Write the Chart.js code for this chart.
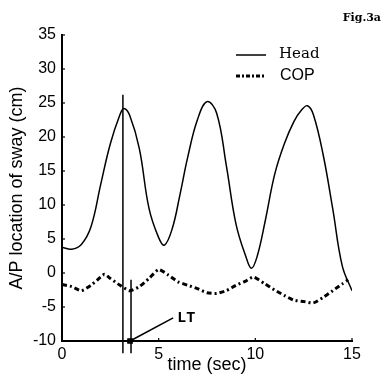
<!DOCTYPE html>
<html>
<head>
<meta charset="utf-8">
<script src="https://cdn.jsdelivr.net/npm/chart.js@4.4.1/dist/chart.umd.min.js"></script>
<style>
  html, body { margin: 0; padding: 0; background: #fff; }
  #wrap { width: 384px; height: 376px; }
</style>
</head>
<body>
<div id="wrap"><canvas id="myChart"></canvas></div>
<script>
// Head position (solid line)
const headTime  = [0, 0.5, 1.0, 1.5, 2.0, 2.5, 3.0, 3.2, 3.5, 4.0, 4.5, 5.0, 5.3, 5.7, 6.1, 6.5, 7.0, 7.5, 8.0, 8.5, 9.0, 9.5, 9.8, 10.1, 10.5, 11.0, 11.5, 12.0, 12.4, 12.7, 13.0, 13.5, 14.0, 14.5, 15.0];
const headValue = [3.8, 3.5, 4.2, 6.8, 13, 19, 23.3, 24.2, 23.2, 18.3, 9.5, 5.2, 4.1, 6.5, 11.5, 17, 22.5, 25.2, 23.5, 15.8, 7.2, 2.5, 0.7, 2.5, 7.5, 14.5, 19, 22.3, 24, 24.6, 23.3, 17.5, 9.5, 1, -2.6];

// Centre of pressure (dash-dot line)
const copTime  = [0, 0.5, 1.0, 1.5, 2.0, 2.2, 2.5, 3.0, 3.5, 4.0, 4.5, 5.0, 5.5, 6.0, 6.5, 7.0, 7.5, 8.0, 8.5, 9.0, 9.5, 9.9, 10.5, 11.0, 11.5, 12.0, 12.5, 13.0, 13.5, 14.0, 14.5, 14.8];
const copValue = [-1.7, -2.0, -2.6, -1.8, -0.6, -0.2, -0.8, -1.8, -2.6, -2.0, -0.8, 0.5, -0.3, -1.3, -1.8, -2.3, -2.9, -3.0, -2.6, -1.8, -1.2, -0.6, -1.6, -2.5, -3.3, -4.0, -4.2, -4.4, -3.6, -2.6, -1.6, -1.0];

// vertical markers and LT annotation
const markerTime   = [3.15, 3.57];
const markerTop    = [26.2, -1.0];
const markerBottom = -11.8;
const ltFrom = [3.52, -10];
const ltTo   = [5.75, -6.6];
const ltText = 'LT';

const xTicks = [0, 5, 10, 15];
const yTicks = [-10, -5, 0, 5, 10, 15, 20, 25, 30, 35];

const sans = "'Liberation Sans', Arial, sans-serif";

const toXY = (xs, ys) => xs.map((x, i) => ({ x: x, y: ys[i] }));

const markerSets = markerTime.map((t, i) => ({
    label: 'marker' + i,
    data: [{ x: t, y: markerTop[i] }, { x: t, y: markerBottom }],
    borderColor: '#000',
    borderWidth: 1.5,
    pointRadius: 0,
    clip: false
}));

// inward tick marks, legend and text labels
const extras = {
    id: 'extras',
    afterDatasetsDraw(chart) {
        const c = chart.ctx;
        const xs = chart.scales.x, ys = chart.scales.y;
        c.save();
        c.strokeStyle = '#000';
        c.lineWidth = 1.2;
        xTicks.forEach(v => {
            const px = xs.getPixelForValue(v);
            c.beginPath(); c.moveTo(px, ys.bottom); c.lineTo(px, ys.bottom - 3); c.stroke();
        });
        yTicks.forEach(v => {
            const py = ys.getPixelForValue(v);
            c.beginPath(); c.moveTo(xs.left, py); c.lineTo(xs.left + 3, py); c.stroke();
        });

        // legend
        const lx = 236, ly = 55;
        c.lineWidth = 1.5;
        c.beginPath(); c.moveTo(lx, ly); c.lineTo(lx + 30, ly); c.stroke();
        c.lineWidth = 3;
        c.setLineDash([4, 2, 2, 2]);
        c.beginPath(); c.moveTo(lx, ly + 21); c.lineTo(lx + 30, ly + 21); c.stroke();
        c.setLineDash([]);
        c.fillStyle = '#000';
        c.textBaseline = 'middle';
        c.textAlign = 'left';
        c.font = "15px 'DejaVu Serif', serif";
        c.fillText(chart.data.datasets[0].label, 279, ly - 1);
        c.font = '16px ' + sans;
        c.fillText(chart.data.datasets[1].label, 280, ly + 21);

        // LT label
        c.font = "bold 15px 'Liberation Mono', monospace";
        c.fillText(ltText, xs.getPixelForValue(ltTo[0]) + 4, ys.getPixelForValue(ltTo[1]));

        // figure tag
        c.font = "bold 11px 'DejaVu Serif', serif";
        c.textAlign = 'right';
        c.fillText('Fig.3a', 381, 18);
        c.restore();
    }
};

const ctx = document.getElementById('myChart');

new Chart(ctx, {
    type: 'line',
    data: {
        datasets: [
            {
                label: 'Head',
                data: toXY(headTime, headValue),
                borderColor: '#000',
                borderWidth: 1.5,
                pointRadius: 0,
                tension: 0.4
            },
            {
                label: 'COP',
                data: toXY(copTime, copValue),
                borderColor: '#000',
                borderWidth: 3,
                borderDash: [5, 3, 2, 3],
                pointRadius: 0,
                tension: 0.2
            },
            ...markerSets,
            {
                label: 'LT',
                data: [{ x: ltFrom[0], y: ltFrom[1] }, { x: ltTo[0], y: ltTo[1] }],
                borderColor: '#000',
                borderWidth: 1.5,
                pointStyle: 'rect',
                pointRadius: [3, 0],
                pointBackgroundColor: '#000',
                pointBorderColor: '#000',
                clip: false
            }
        ]
    },
    options: {
        responsive: true,
        maintainAspectRatio: false,
        animation: false,
        layout: { padding: { top: 35, right: 32, left: 0, bottom: 0 } },
        plugins: { legend: { display: false }, tooltip: { enabled: false } },
        scales: {
            x: {
                type: 'linear',
                min: 0, max: 15,
                afterBuildTicks: s => { s.ticks = xTicks.map(v => ({ value: v })); },
                afterFit: s => { s.height = 35; },
                grid: { drawOnChartArea: false, drawTicks: false },
                border: { color: '#000', width: 2 },
                ticks: { color: '#000', padding: 4, font: { family: sans, size: 16 }, maxRotation: 0 },
                title: { display: true, text: 'time (sec)', color: '#000', padding: 0, font: { family: sans, size: 18 } }
            },
            y: {
                min: -10, max: 35,
                afterBuildTicks: s => { s.ticks = yTicks.map(v => ({ value: v })); },
                afterFit: s => { s.width = 62; },
                grid: { drawOnChartArea: false, drawTicks: false },
                border: { color: '#000', width: 2 },
                ticks: { color: '#000', padding: 6, font: { family: sans, size: 16 } },
                title: { display: true, text: 'A/P location of sway (cm)', color: '#000', padding: { top: 6 }, font: { family: sans, size: 18 } }
            }
        }
    },
    plugins: [extras]
});
</script>
</body>
</html>
